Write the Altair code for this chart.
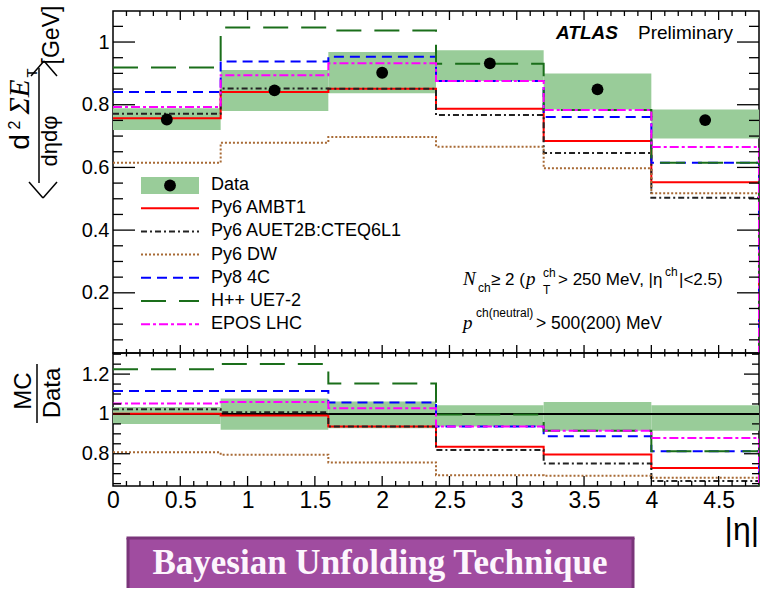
import altair as alt
import numpy as np
import pandas as pd

# |eta| bin edges
edges = [0.0, 0.8, 1.6, 2.4, 3.2, 4.0, 4.8]

# Unfolded data: mean d2(sum ET)/deta dphi [GeV] and its uncertainty band
data_val = [0.753, 0.846, 0.902, 0.932, 0.849, 0.751]
data_lo = [0.719, 0.780, 0.837, 0.876, 0.785, 0.692]
data_hi = [0.789, 0.911, 0.968, 0.974, 0.900, 0.785]

# MC predictions
py6_ambt1 = [0.757, 0.841, 0.851, 0.787, 0.684, 0.553]
py6_auet2b = [0.771, 0.852, 0.851, 0.767, 0.646, 0.503]
py6_dw = [0.615, 0.679, 0.697, 0.666, 0.597, 0.518]
py8_4c = [0.841, 0.938, 0.953, 0.876, 0.761, 0.615]
hpp_ue7 = [0.919, 1.046, 1.037, 0.931, 0.783, 0.615]
epos_lhc = [0.793, 0.894, 0.932, 0.876, 0.783, 0.665]

# MC / Data ratios and the data uncertainty band in the ratio
ratio_lo = [0.950, 0.920, 0.928, 0.937, 0.915, 0.915]
ratio_hi = [1.035, 1.077, 1.063, 1.043, 1.060, 1.043]
r_ambt1 = [1.001, 0.992, 0.937, 0.835, 0.796, 0.728]
r_auet2b = [1.023, 1.009, 0.937, 0.819, 0.751, 0.663]
r_dw = [0.807, 0.795, 0.756, 0.692, 0.689, 0.680]
r_4c = [1.115, 1.115, 1.057, 0.937, 0.888, 0.812]
r_hpp = [1.225, 1.251, 1.153, 0.997, 0.916, 0.812]
r_epos = [1.052, 1.060, 1.029, 0.937, 0.916, 0.879]

names = ["Py6 AMBT1", "Py6 AUET2B:CTEQ6L1", "Py6 DW", "Py8 4C", "H++ UE7-2", "EPOS LHC"]
colors = ["#ff0000", "#222222", "#a86a35", "#0000ff", "#1a6e1a", "#ff00ff"]
dashes = [None, [6, 3, 2, 3], [2, 2], [10, 6], [25, 13], [9, 3, 3, 3]]
top_series = [py6_ambt1, py6_auet2b, py6_dw, py8_4c, hpp_ue7, epos_lhc]
ratio_series = [r_ambt1, r_auet2b, r_dw, r_4c, r_hpp, r_epos]

W, H_TOP, H_RAT = 646, 342, 133
SANS = "Liberation Sans"
SERIF = "Liberation Serif"

x_scale = alt.Scale(domain=[0, 4.8], nice=False, zero=False)
y_top = alt.Scale(domain=[0.008, 1.099], nice=False, zero=False)
y_rat = alt.Scale(domain=[0.638, 1.306], nice=False, zero=False)

ax_y_top = alt.Axis(values=[0.2, 0.4, 0.6, 0.8, 1.0], format="~g", ticks=False, tickSize=0,
                    domain=False, grid=False, labelFontSize=20, labelFont=SANS,
                    labelColor="black", labelPadding=4, labelOverlap=False, title=None)
ax_y_rat = alt.Axis(values=[0.8, 1.0, 1.2], format="~g", ticks=False, tickSize=0,
                    domain=False, grid=False, labelFontSize=20, labelFont=SANS,
                    labelColor="black", labelPadding=4, labelOverlap=False, title=None)
ax_x_rat = alt.Axis(values=[0, 0.5, 1, 1.5, 2, 2.5, 3, 3.5, 4, 4.5], format="~g", ticks=False,
                    tickSize=0, domain=False, grid=False, labelFontSize=23, labelFont=SANS,
                    labelColor="black", labelPadding=3, labelFlush=False, labelOverlap=False,
                    title=None)

one = pd.DataFrame({"k": [0]})


def step_frame(vals):
    xs, ys = [], []
    for i, v in enumerate(vals):
        xs += [edges[i], edges[i + 1]]
        ys += [v, v]
    xs.append(edges[-1])
    ys.append(0.0)
    return pd.DataFrame({"x": xs, "y": ys, "o": list(range(len(xs)))})


def bins_frame(lo, hi, val=None):
    d = {"x0": edges[:-1], "x1": edges[1:], "lo": lo, "hi": hi}
    if val is not None:
        d["v"] = val
        d["xc"] = [(a + b) / 2 for a, b in zip(edges[:-1], edges[1:])]
    return pd.DataFrame(d)


def text(t, x, y, size, font=SANS, align="left", baseline="alphabetic", angle=0,
         style="normal", weight="normal", color="black"):
    return alt.Chart(one).mark_text(
        text=t, align=align, baseline=baseline, fontSize=size, font=font, angle=angle,
        fontStyle=style, fontWeight=weight, color=color
    ).encode(x=alt.value(x), y=alt.value(y))


def rule_px(x, x2, y, y2, color="black", width=1.5, dash=None):
    kw = dict(color=color, strokeWidth=width)
    if dash:
        kw["strokeDash"] = dash
    return alt.Chart(one).mark_rule(**kw).encode(
        x=alt.value(x), x2=alt.value(x2), y=alt.value(y), y2=alt.value(y2))


def y_ticks(vals, yscale, yaxis, x0, x1):
    df = pd.DataFrame({"v": vals})
    return alt.Chart(df).mark_rule(color="black", strokeWidth=1.3).encode(
        y=alt.Y("v:Q", scale=yscale, axis=yaxis), x=alt.value(x0), x2=alt.value(x1))


def x_ticks(vals, xaxis, y0, y1):
    df = pd.DataFrame({"v": vals})
    return alt.Chart(df).mark_rule(color="black", strokeWidth=1.3).encode(
        x=alt.X("v:Q", scale=x_scale, axis=xaxis), y=alt.value(y0), y2=alt.value(y1))


def band(lo, hi, yscale, yaxis, xaxis):
    return alt.Chart(bins_frame(lo, hi)).mark_rect(color="#99cc99").encode(
        x=alt.X("x0:Q", scale=x_scale, axis=xaxis), x2="x1:Q",
        y=alt.Y("lo:Q", scale=yscale, axis=yaxis), y2="hi:Q")


def step_lines(series, yscale, yaxis, xaxis):
    layers = []
    for vals, c, d in zip(series, colors, dashes):
        kw = dict(color=c, strokeWidth=2, clip=True)
        if d:
            kw["strokeDash"] = d
        layers.append(alt.Chart(step_frame(vals)).mark_line(**kw).encode(
            x=alt.X("x:Q", scale=x_scale, axis=xaxis),
            y=alt.Y("y:Q", scale=yscale, axis=yaxis),
            order="o:Q"))
    return layers


y_major_top = [0.2, 0.4, 0.6, 0.8, 1.0]
y_minor_top = [v for v in np.round(np.arange(0.05, 1.096, 0.05), 2) if v not in y_major_top]
y_major_rat = [0.8, 1.0, 1.2]
y_minor_rat = [v for v in np.round(np.arange(0.65, 1.301, 0.05), 2) if v not in y_major_rat]
x_major = [0.5, 1.0, 1.5, 2.0, 2.5, 3.0, 3.5, 4.0, 4.5]
x_minor = [v for v in np.round(np.arange(0.1, 4.75, 0.1), 1) if v not in x_major]

# ---------------- upper panel ----------------
top_layers = [
    # anchors the canvas origin
    alt.Chart(one).mark_rect(opacity=0).encode(
        x=alt.value(-112), x2=alt.value(-110), y=alt.value(-10), y2=alt.value(-8)),
    band(data_lo, data_hi, y_top, ax_y_top, None),
]
top_layers += step_lines(top_series, y_top, ax_y_top, None)
top_layers.append(
    alt.Chart(bins_frame(data_lo, data_hi, data_val)).mark_circle(
        color="black", opacity=1, size=140).encode(
        x=alt.X("xc:Q", scale=x_scale, axis=None),
        y=alt.Y("v:Q", scale=y_top, axis=ax_y_top)))
top_layers += [
    y_ticks(y_major_top, y_top, ax_y_top, 0, 22),
    y_ticks(y_minor_top, y_top, ax_y_top, 0, 10),
    y_ticks(y_major_top, y_top, ax_y_top, W, W - 22),
    y_ticks(y_minor_top, y_top, ax_y_top, W, W - 10),
    x_ticks(x_major, None, 0, 9),
    x_ticks(x_minor, None, 0, 5),
    x_ticks(x_major, None, H_TOP, H_TOP - 8),
    x_ticks(x_minor, None, H_TOP, H_TOP - 4),
]

# legend
rows = [174, 197.2, 220.4, 243.6, 266.8, 290, 313.2]
top_layers.append(alt.Chart(one).mark_rect(color="#99cc99").encode(
    x=alt.value(28), x2=alt.value(86), y=alt.value(166), y2=alt.value(183)))
top_layers.append(alt.Chart(one).mark_circle(color="black", opacity=1, size=140).encode(
    x=alt.value(57), y=alt.value(174.5)))
top_layers.append(text("Data", 98, rows[0], 18, baseline="middle"))
for i, (nm, c, d) in enumerate(zip(names, colors, dashes)):
    top_layers.append(rule_px(28, 86, rows[i + 1], rows[i + 1], color=c, width=2, dash=d))
    top_layers.append(text(nm, 98, rows[i + 1], 18, baseline="middle"))

# experiment label
top_layers.append(text("ATLAS", 443, 22, 19, baseline="middle", style="italic", weight="bold"))
top_layers.append(text("Preliminary", 525, 22, 19, baseline="middle"))

# selection text
top_layers += [
    text("N", 350, 274, 19, font=SERIF, style="italic"),
    text("ch", 365, 281, 12),
    text("\u2265 2 (", 378, 274, 17),
    text("p", 413, 274, 19, font=SERIF, style="italic"),
    text("ch", 430, 266, 12),
    text("T", 430, 283, 12),
    text("> 250 MeV, |\u03b7", 445, 274, 17),
    text("ch", 552, 265, 12),
    text("|<2.5)", 566, 274, 17),
    text("p", 350, 318, 19, font=SERIF, style="italic"),
    text("ch(neutral)", 363, 306, 12),
    text("> 500(200) MeV", 423, 318, 17.5),
]

# y-axis title: < d2(Sigma E_T) / deta dphi > [GeV]
top_layers += [
    text("[GeV]", -54, 24, 23, align="center", angle=270),
    # closing angle bracket
    rule_px(-82, -69, 65, 50, width=1.5),
    rule_px(-69, -56, 50, 65, width=1.5),
    text("d", -84, 131, 28, align="center", angle=270),
    text("2", -93, 114, 16, align="center", angle=270),
    text("\u03a3E", -84, 86, 29, font=SERIF, style="italic", align="center", angle=270),
    text("T", -76, 62, 15, align="center", angle=270),
    rule_px(-74, -74, 57, 172, width=1.5),
    text("d\u03b7d\u03c6", -56, 130, 22, align="center", angle=270),
    # opening angle bracket
    rule_px(-84, -70, 171, 187, width=1.5),
    rule_px(-70, -56, 187, 171, width=1.5),
]

top = alt.layer(*top_layers).properties(width=W, height=H_TOP)

# ---------------- ratio panel ----------------
rat_layers = [band(ratio_lo, ratio_hi, y_rat, ax_y_rat, ax_x_rat)]
rat_layers.append(alt.Chart(pd.DataFrame({"v": [1.0]})).mark_rule(color="black", strokeWidth=2).encode(
    y=alt.Y("v:Q", scale=y_rat, axis=ax_y_rat), x=alt.value(0), x2=alt.value(W)))
rat_layers += step_lines(ratio_series, y_rat, ax_y_rat, ax_x_rat)
rat_layers += [
    y_ticks(y_major_rat, y_rat, ax_y_rat, 0, 17),
    y_ticks(y_minor_rat, y_rat, ax_y_rat, 0, 8),
    y_ticks(y_major_rat, y_rat, ax_y_rat, W, W - 15),
    y_ticks(y_minor_rat, y_rat, ax_y_rat, W, W - 7),
    x_ticks(x_major, ax_x_rat, 0, 5),
    x_ticks(x_minor, ax_x_rat, 0, 3.5),
    x_ticks(x_major, ax_x_rat, H_RAT, H_RAT - 10),
    x_ticks(x_minor, ax_x_rat, H_RAT, H_RAT - 5),
    # MC / Data title
    text("MC", -89, 38, 24, align="center", baseline="middle", angle=270),
    rule_px(-76, -76, 11, 70, width=1.5),
    text("Data", -60, 40, 24, align="center", baseline="middle", angle=270),
    # |eta| axis title
    text("|\u03b7|", W, 187, 32, align="right"),
    # banner
    alt.Chart(one).mark_rect(color="#a04ca0").encode(
        x=alt.value(15), x2=alt.value(520), y=alt.value(185), y2=alt.value(235)),
    rule_px(15, 15, 185, 235, color="#7a357a", width=3),
    rule_px(520, 520, 185, 235, color="#7a357a", width=3),
    rule_px(13.5, 521.5, 185, 185, color="#7a357a", width=3),
    text("Bayesian Unfolding Technique", 267, 221, 35, font=SERIF, weight="bold",
         align="center", color="#fdf6fd"),
]

ratio = alt.layer(*rat_layers).properties(width=W, height=H_RAT)

chart = alt.vconcat(top, ratio, spacing=0, bounds="flush").properties(
    padding=0, background="white"
).configure_view(stroke="black", strokeWidth=1.5)

chart.save("out.html", embed_options={"renderer": "svg", "actions": False})
